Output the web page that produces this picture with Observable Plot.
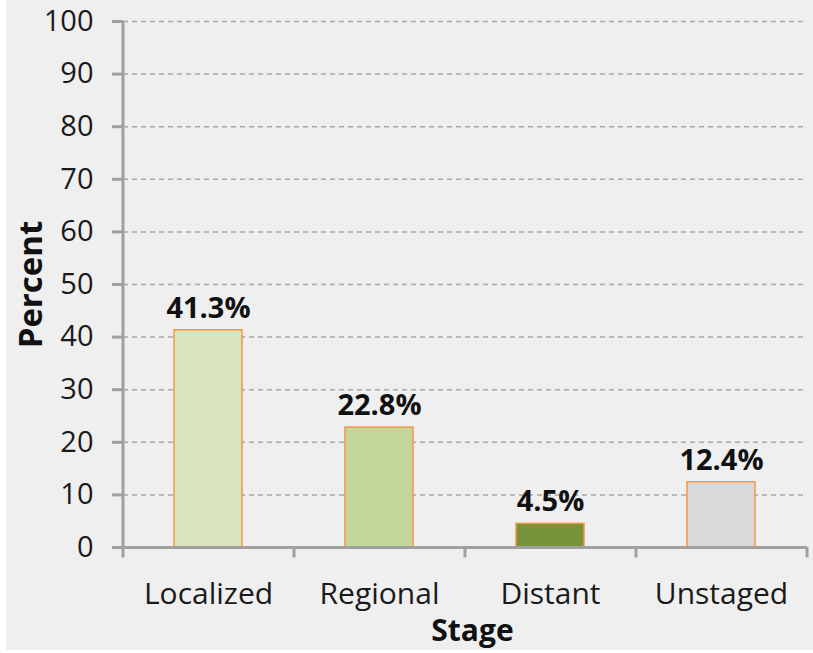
<!DOCTYPE html>
<html>
<head>
<meta charset="utf-8">
<script src="https://cdn.jsdelivr.net/npm/d3@7"></script>
<script src="https://cdn.jsdelivr.net/npm/@observablehq/plot@0.6"></script>
<style>
  html, body { margin: 0; padding: 0; background: #ffffff; }
  #chart { margin-left: 6px; width: 807px; height: 650px; background: #efefef; }
  #chart svg { display: block; }
</style>
</head>
<body>
<div id="chart"></div>
<script>
const stages = ["Localized", "Regional", "Distant", "Unstaged"];
const percents = [41.3, 22.8, 4.5, 12.4];
const barColors = ["#d8e4bc", "#c4d79b", "#77933c", "#d9d9d9"];
const yTicks = [0, 10, 20, 30, 40, 50, 60, 70, 80, 90, 100];
const gridTicks = [10, 20, 30, 40, 50, 60, 70, 80, 90, 100];
const yLabel = "Percent";
const xLabel = "Stage";

const data = stages.map((s, i) => ({stage: s, value: percents[i], color: barColors[i], label: percents[i].toFixed(1) + "%"}));

const font = "'Open Sans', sans-serif";
const axisGray = "#a0a0a0";
const step = 171;

const chart = Plot.plot({
  width: 807,
  height: 650,
  marginLeft: 117,
  marginRight: 6,
  marginTop: 21,
  marginBottom: 103,
  style: {background: "transparent", fontFamily: font, color: "#1a1a1a"},
  x: {domain: stages, paddingInner: 0.6, paddingOuter: 0.3},
  y: {domain: [0, 100]},
  marks: [
    Plot.ruleY(gridTicks, {stroke: "#a8a8a8", strokeWidth: 1.5, strokeDasharray: "5,4"}),
    Plot.barY(data, {x: "stage", y: "value", fill: "color", stroke: "#f79646", strokeWidth: 1.5}),
    Plot.text(data, {x: "stage", y: "value", text: "label", dy: -22, fontWeight: "bold", fontSize: 29, fill: "#111"}),
    Plot.ruleY([0], {stroke: axisGray, strokeWidth: 3}),
    Plot.ruleX(stages, {x: d => d, dx: -step / 2, y1: 0, y2: -2, stroke: axisGray, strokeWidth: 3}),
    Plot.ruleX([stages[stages.length - 1]], {x: d => d, dx: step / 2, y1: 0, y2: -2, stroke: axisGray, strokeWidth: 3}),
    Plot.ruleX([stages[0]], {x: d => d, dx: -step / 2, y1: 0, y2: 100, stroke: axisGray, strokeWidth: 3}),
    Plot.axisY(yTicks, {tickSize: 11, tickPadding: 19, fontSize: 29, stroke: axisGray, strokeWidth: 3, label: null, fill: "#1a1a1a"}),
    Plot.axisX({tickSize: 0, tickPadding: 35, fontSize: 30, label: null, fill: "#1a1a1a"}),
    Plot.text([yLabel], {frameAnchor: "left", textAnchor: "middle", lineAnchor: "middle", rotate: -90, dx: -92, fontWeight: "bold", fontSize: 33, fill: "#111"}),
    Plot.text([xLabel], {frameAnchor: "bottom", textAnchor: "middle", lineAnchor: "middle", dy: 84, dx: 7, fontWeight: "bold", fontSize: 30, fill: "#111"})
  ]
});
document.getElementById("chart").appendChild(chart);
</script>
</body>
</html>
